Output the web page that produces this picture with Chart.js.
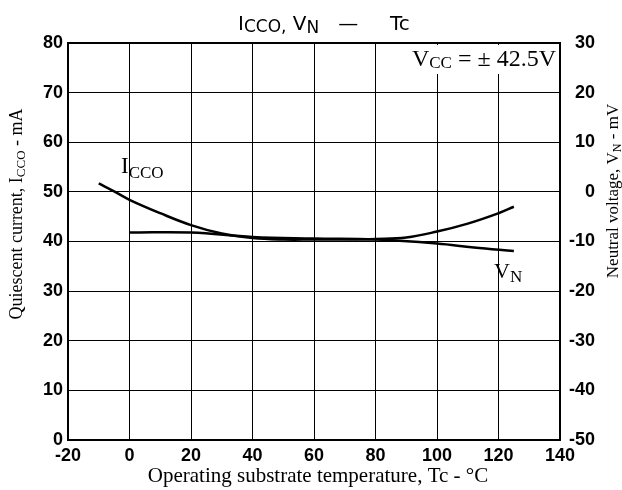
<!DOCTYPE html>
<html>
<head>
<meta charset="utf-8">
<script src="https://cdn.jsdelivr.net/npm/chart.js@4.4.0/dist/chart.umd.min.js"></script>
<style>
  body { margin: 0; background: #fff; }
  canvas { display: block; }
</style>
</head>
<body>
<canvas id="chart" width="622" height="490"></canvas>
<script>
// axis ranges
const tempRange = [-20, 140];
const currentRange = [0, 80];
const voltageRange = [-50, 30];

// I_CCO (mA, left axis) vs case temperature
const iccoTemp = [-10, -5, 0, 10, 20, 30, 40, 50, 60, 70, 80, 90, 100, 110, 120, 125];
const iccoMA = [51.7, 50.1, 48.4, 45.7, 43.3, 41.6, 40.7, 40.4, 40.4, 40.4, 40.5, 40.8, 42.0, 43.6, 45.7, 47.0];

// V_N (mV, right axis) vs case temperature
const vnTemp = [0, 20, 40, 60, 80, 100, 112, 125];
const vnMV = [-8.2, -8.2, -9.1, -9.4, -9.6, -10.4, -11.2, -11.9];

const SERIF = '"Liberation Serif", "Times New Roman", serif';
const SANS = '"DejaVu Sans", sans-serif';
const tickFont = { family: '"Liberation Sans", Arial, sans-serif', size: 18, weight: 'bold' };

// draws a run of text pieces (for the subscripts)
function richText(ctx, parts, x, y, align) {
  let w = 0;
  parts.forEach(p => { ctx.font = p.f; p.w = ctx.measureText(p.t).width; w += p.w; });
  let cx = align === 'center' ? x - w / 2 : align === 'right' ? x - w : x;
  ctx.textAlign = 'left';
  ctx.textBaseline = 'alphabetic';
  parts.forEach(p => { ctx.font = p.f; ctx.fillText(p.t, cx, y + (p.dy || 0)); cx += p.w; });
}

const labels = {
  id: 'labels',
  afterDraw(chart) {
    const ctx = chart.ctx;
    const a = chart.chartArea;
    ctx.save();
    ctx.fillStyle = '#000';

    // title
    richText(ctx, [
      { t: 'I', f: '20px ' + SANS },
      { t: 'CCO,', f: '17px ' + SANS, dy: 2 },
      { t: ' V', f: '20px ' + SANS },
      { t: 'N', f: '17px ' + SANS, dy: 3 },
      { t: '   \u2014     Tc', f: '20px ' + SANS }
    ], 238, 30, 'left');

    // supply note with white box
    ctx.fillStyle = '#fff';
    ctx.fillRect(404, a.top + 2, a.right - 405, 29);
    ctx.fillStyle = '#000';
    richText(ctx, [
      { t: 'V', f: '24px ' + SERIF },
      { t: 'CC', f: '17px ' + SERIF, dy: 2 },
      { t: ' = \u00b1 42.5V', f: '24px ' + SERIF }
    ], 556, 66, 'right');

    // curve labels
    richText(ctx, [
      { t: 'I', f: '23px ' + SERIF },
      { t: 'CCO', f: '17px ' + SERIF, dy: 5 }
    ], 121, 173, 'left');
    richText(ctx, [
      { t: 'V', f: '22px ' + SERIF },
      { t: 'N', f: '17px ' + SERIF, dy: 4 }
    ], 494, 278, 'left');

    // x axis title
    richText(ctx, [{ t: 'Operating substrate temperature, Tc - \u00b0C', f: '21px ' + SERIF }], 318, 482, 'center');

    // left axis title
    ctx.save();
    ctx.translate(22, 214);
    ctx.rotate(-Math.PI / 2);
    richText(ctx, [
      { t: 'Quiescent current, I', f: '18px ' + SERIF },
      { t: 'CCO', f: '13px ' + SERIF, dy: 3 },
      { t: ' - mA', f: '18px ' + SERIF }
    ], 0, 0, 'center');
    ctx.restore();

    // right axis title
    ctx.save();
    ctx.translate(618, 191);
    ctx.rotate(-Math.PI / 2);
    richText(ctx, [
      { t: 'Neutral voltage, V', f: '17px ' + SERIF },
      { t: 'N', f: '12px ' + SERIF, dy: 3 },
      { t: ' - mV', f: '17px ' + SERIF }
    ], 0, 0, 'center');
    ctx.restore();

    // frame
    ctx.strokeStyle = '#000';
    ctx.lineWidth = 2;
    ctx.strokeRect(a.left, a.top, a.right - a.left, a.bottom - a.top);
    ctx.restore();
  }
};

new Chart(document.getElementById('chart'), {
  type: 'line',
  data: {
    datasets: [
      {
        label: 'ICCO',
        data: iccoTemp.map((t, i) => ({ x: t, y: iccoMA[i] })),
        yAxisID: 'y',
        borderColor: '#000',
        borderWidth: 2.5,
        pointRadius: 0,
        tension: 0.4
      },
      {
        label: 'VN',
        data: vnTemp.map((t, i) => ({ x: t, y: vnMV[i] })),
        yAxisID: 'y2',
        borderColor: '#000',
        borderWidth: 2.5,
        pointRadius: 0,
        tension: 0.4
      }
    ]
  },
  options: {
    responsive: false,
    animation: false,
    layout: { padding: { top: 43, right: 27, left: 0, bottom: 0 } },
    plugins: { legend: { display: false }, tooltip: { enabled: false } },
    scales: {
      x: {
        type: 'linear',
        min: tempRange[0],
        max: tempRange[1],
        ticks: { stepSize: 20, color: '#000', font: tickFont, padding: 5, maxRotation: 0 },
        grid: { color: '#000', lineWidth: 1, drawTicks: false },
        border: { color: '#000', width: 2 },
        afterFit(s) { s.height = 50; }
      },
      y: {
        position: 'left',
        min: currentRange[0],
        max: currentRange[1],
        ticks: { stepSize: 10, color: '#000', font: tickFont, padding: 5 },
        grid: { color: '#000', lineWidth: 1, drawTicks: false },
        border: { color: '#000', width: 2 },
        afterFit(s) { s.width = 68; }
      },
      y2: {
        position: 'right',
        min: voltageRange[0],
        max: voltageRange[1],
        ticks: { stepSize: 10, color: '#000', font: tickFont, padding: 5, crossAlign: 'far' },
        grid: { display: false },
        border: { color: '#000', width: 2 },
        afterFit(s) { s.width = 35; }
      }
    }
  },
  plugins: [labels]
});
</script>
</body>
</html>
